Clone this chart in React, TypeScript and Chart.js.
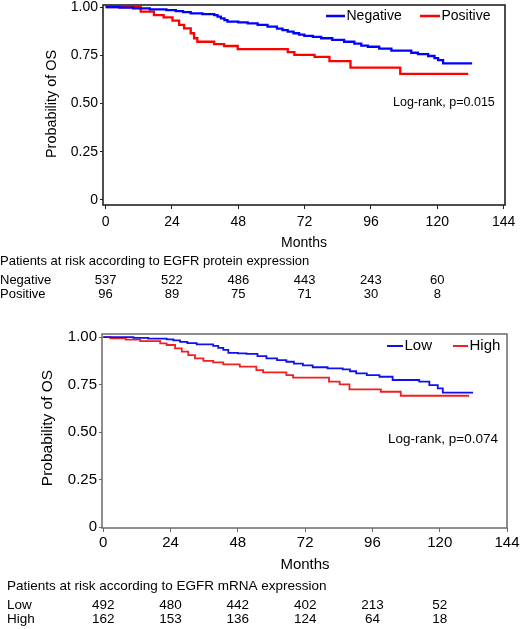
import React, { useEffect, useRef } from 'react';
import { Chart, registerables } from 'chart.js';

Chart.register(...registerables);

const FONT = '"Liberation Sans", Arial, Helvetica, sans-serif';

// ---------- shared axis ticks ----------
const monthTicks = [0, 24, 48, 72, 96, 120, 144];
const probTicks = [0, 0.25, 0.5, 0.75, 1];
const riskMonths = [0, 24, 48, 72, 96, 120];

// ---------- top panel: EGFR protein expression ----------
const negMonths = [0, 5, 10, 16, 22, 25.4, 28, 30.8, 35, 39.3, 40.5, 41.7, 43, 44.1, 48, 51.4, 55, 58.6, 62, 64, 65.9, 68, 70, 71.9, 75, 78, 82, 86.3, 90, 92.5, 94.9, 99, 103.4, 110.6, 113, 116.7, 119, 120.3, 122.1, 132.6];
const negSurv = [1.0, 0.997, 0.993, 0.988, 0.984, 0.979, 0.973, 0.967, 0.963, 0.958, 0.95, 0.941, 0.932, 0.924, 0.92, 0.915, 0.907, 0.898, 0.888, 0.88, 0.872, 0.864, 0.857, 0.85, 0.845, 0.838, 0.83, 0.82, 0.81, 0.8, 0.794, 0.784, 0.774, 0.763, 0.756, 0.746, 0.735, 0.725, 0.708, 0.708];
const posMonths = [0, 12.7, 17.5, 21, 24.2, 26.6, 28.4, 30.8, 32, 33.2, 39.3, 42.9, 47.8, 65.9, 68.3, 75.6, 81, 88.6, 106.6, 131.2];
const posSurv = [1.0, 0.976, 0.958, 0.946, 0.929, 0.907, 0.889, 0.864, 0.838, 0.82, 0.808, 0.798, 0.782, 0.766, 0.752, 0.742, 0.72, 0.686, 0.653, 0.653];
const proteinRiskNeg = [537, 522, 486, 443, 243, 60];
const proteinRiskPos = [96, 89, 75, 71, 30, 8];

// ---------- bottom panel: EGFR mRNA expression ----------
const lowMonths = [0, 10.8, 16, 22.6, 25, 27.4, 30, 33.3, 39.2, 41, 42.8, 44.6, 48, 51.1, 55, 58.2, 62, 65.3, 68, 71.2, 74.7, 80, 85.4, 88, 90.2, 94, 98.5, 103.2, 112.7, 116.3, 119.3, 121.1, 131.9];
const lowSurv = [1.0, 0.996, 0.992, 0.988, 0.982, 0.975, 0.968, 0.961, 0.954, 0.943, 0.932, 0.917, 0.914, 0.911, 0.9, 0.888, 0.878, 0.87, 0.86, 0.851, 0.841, 0.835, 0.83, 0.82, 0.809, 0.8, 0.791, 0.774, 0.765, 0.747, 0.73, 0.707, 0.707];
const highMonths = [0, 2.5, 8, 13.2, 20.3, 22.6, 25.6, 28, 30.3, 32.7, 35.7, 39.2, 42.8, 48.7, 54.6, 57, 65.3, 67.7, 80.5, 84.3, 87.8, 99, 106.1, 130.5];
const highSurv = [1.0, 0.993, 0.986, 0.979, 0.967, 0.958, 0.94, 0.923, 0.905, 0.888, 0.875, 0.867, 0.856, 0.844, 0.826, 0.814, 0.8, 0.786, 0.765, 0.751, 0.725, 0.712, 0.691, 0.691];
const mrnaRiskLow = [492, 480, 442, 402, 213, 52];
const mrnaRiskHigh = [162, 153, 136, 124, 64, 18];

type Series = { label: string; months: number[]; surv: number[]; color: string };
type LegendItem = { label: string; color: string; x: number; len: number };
type Panel = {
  width: number;
  height: number;
  area: { left: number; top: number; right: number; bottom: number };
  xRange: [number, number];
  yRange: [number, number];
  series: Series[];
  lineWidth: number;
  frameColor: string;
  frameWidth: number;
  tickSize: number;
  xTickPad: number;
  legend: LegendItem[];
  legendY: number;
  legendSize: number;
  legendLineWidth: number;
  pText: string;
  pX: number;
  pY: number;
  pSize: number;
  yTitleX: number;
  yTitleY: number;
  yTitleSize: number;
  monthsX: number;
  monthsY: number;
  monthsSize: number;
  tableX: number;
  tableTitle: string;
  tableTitleY: number;
  rows: { label: string; values: number[]; y: number }[];
  tableSize: number;
};

const BLUE = '#0000ff';
const RED = '#ff0000';

const topPanel: Panel = {
  width: 520,
  height: 315,
  area: { left: 103, top: 5, right: 505, bottom: 205 },
  xRange: [-0.94, 144.5],
  yRange: [-0.026, 1.0104],
  series: [
    { label: 'Negative', months: negMonths, surv: negSurv, color: BLUE },
    { label: 'Positive', months: posMonths, surv: posSurv, color: RED },
  ],
  lineWidth: 2.3,
  frameColor: '#222222',
  frameWidth: 1.6,
  tickSize: 14,
  xTickPad: 5,
  legend: [
    { label: 'Negative', color: BLUE, x: 326, len: 19 },
    { label: 'Positive', color: RED, x: 420, len: 20 },
  ],
  legendY: 16,
  legendSize: 14,
  legendLineWidth: 2.5,
  pText: 'Log-rank, p=0.015',
  pX: 393,
  pY: 103,
  pSize: 12.5,
  yTitleX: 52,
  yTitleY: 104,
  yTitleSize: 14.4,
  monthsX: 304,
  monthsY: 243,
  monthsSize: 14,
  tableX: 0,
  tableTitle: 'Patients at risk according to EGFR protein expression',
  tableTitleY: 261,
  rows: [
    { label: 'Negative', values: proteinRiskNeg, y: 280 },
    { label: 'Positive', values: proteinRiskPos, y: 294 },
  ],
  tableSize: 13,
};

const bottomPanel: Panel = {
  width: 520,
  height: 314,
  area: { left: 102, top: 19, right: 507, bottom: 213 },
  xRange: [-0.46, 144],
  yRange: [-0.005, 1.016],
  series: [
    { label: 'Low', months: lowMonths, surv: lowSurv, color: '#1010f0' },
    { label: 'High', months: highMonths, surv: highSurv, color: '#f02020' },
  ],
  lineWidth: 1.8,
  frameColor: '#6a6a6a',
  frameWidth: 1.5,
  tickSize: 15,
  xTickPad: 2,
  legend: [
    { label: 'Low', color: '#1010f0', x: 387, len: 16 },
    { label: 'High', color: '#f02020', x: 453, len: 15 },
  ],
  legendY: 31,
  legendSize: 15,
  legendLineWidth: 2,
  pText: 'Log-rank, p=0.074',
  pX: 388,
  pY: 124,
  pSize: 13.5,
  yTitleX: 48,
  yTitleY: 113,
  yTitleSize: 15.5,
  monthsX: 305,
  monthsY: 250,
  monthsSize: 15,
  tableX: 7,
  tableTitle: 'Patients at risk according to EGFR mRNA expression',
  tableTitleY: 271,
  rows: [
    { label: 'Low', values: mrnaRiskLow, y: 290 },
    { label: 'High', values: mrnaRiskHigh, y: 304 },
  ],
  tableSize: 13.5,
};

function makeExtras(p: Panel) {
  return {
    id: 'kmExtras',
    afterDraw(chart: any) {
      const ctx: CanvasRenderingContext2D = chart.ctx;
      const a = chart.chartArea;
      const xs = chart.scales.x;
      ctx.save();
      // frame box
      ctx.strokeStyle = p.frameColor;
      ctx.lineWidth = p.frameWidth;
      ctx.strokeRect(a.left, a.top, a.right - a.left, a.bottom - a.top);

      ctx.fillStyle = '#000';
      ctx.textBaseline = 'middle';

      // legend
      ctx.font = `${p.legendSize}px ${FONT}`;
      ctx.textAlign = 'left';
      for (const it of p.legend) {
        ctx.strokeStyle = it.color;
        ctx.lineWidth = p.legendLineWidth;
        ctx.beginPath();
        ctx.moveTo(it.x, p.legendY);
        ctx.lineTo(it.x + it.len, p.legendY);
        ctx.stroke();
        ctx.fillText(it.label, it.x + it.len + 1.5, p.legendY);
      }

      // log-rank annotation
      ctx.font = `${p.pSize}px ${FONT}`;
      ctx.fillText(p.pText, p.pX, p.pY);

      // y title
      ctx.save();
      ctx.translate(p.yTitleX, p.yTitleY);
      ctx.rotate(-Math.PI / 2);
      ctx.textAlign = 'center';
      ctx.font = `${p.yTitleSize}px ${FONT}`;
      ctx.fillText('Probability of OS', 0, 0);
      ctx.restore();

      // x title
      ctx.textAlign = 'center';
      ctx.font = `${p.monthsSize}px ${FONT}`;
      ctx.fillText('Months', p.monthsX, p.monthsY);

      // number at risk table
      ctx.font = `${p.tableSize}px ${FONT}`;
      ctx.textAlign = 'left';
      ctx.fillText(p.tableTitle, p.tableX, p.tableTitleY);
      for (const row of p.rows) {
        ctx.textAlign = 'left';
        ctx.fillText(row.label, p.tableX, row.y);
        ctx.textAlign = 'center';
        row.values.forEach((v, i) => {
          ctx.fillText(String(v), xs.getPixelForValue(riskMonths[i]), row.y);
        });
      }
      ctx.restore();
    },
  };
}

function KMPanel({ p, top }: { p: Panel; top: number }) {
  const ref = useRef<HTMLCanvasElement | null>(null);
  useEffect(() => {
    if (!ref.current) return;
    const tickFont = { family: FONT, size: p.tickSize };
    const chart = new Chart(ref.current, {
      type: 'line',
      data: {
        datasets: p.series.map((s) => ({
          label: s.label,
          data: s.months.map((m, i) => ({ x: m, y: s.surv[i] })),
          borderColor: s.color,
          backgroundColor: s.color,
          borderWidth: p.lineWidth,
          stepped: true,
          pointRadius: 0,
          fill: false,
          tension: 0,
        })),
      },
      options: {
        animation: false,
        responsive: false,
        devicePixelRatio: 1,
        layout: {
          padding: { left: 0, top: p.area.top, right: p.width - p.area.right, bottom: 0 },
        },
        plugins: { legend: { display: false }, tooltip: { enabled: false } },
        scales: {
          x: {
            type: 'linear',
            min: p.xRange[0],
            max: p.xRange[1],
            afterBuildTicks: (s: any) => {
              s.ticks = monthTicks.map((v) => ({ value: v }));
            },
            afterFit: (s: any) => {
              s.height = p.height - p.area.bottom;
              s.paddingLeft = 0;
              s.paddingRight = 0;
            },
            ticks: {
              font: tickFont,
              color: '#000',
              padding: p.xTickPad,
              autoSkip: false,
              maxRotation: 0,
              callback: (v: any) => String(v),
            },
            grid: {
              display: true,
              drawOnChartArea: false,
              drawTicks: true,
              tickLength: 4,
              color: p.frameColor,
              lineWidth: 1,
            },
            border: { display: false },
          },
          y: {
            type: 'linear',
            min: p.yRange[0],
            max: p.yRange[1],
            afterBuildTicks: (s: any) => {
              s.ticks = probTicks.map((v) => ({ value: v }));
            },
            afterFit: (s: any) => {
              s.width = p.area.left;
              s.paddingTop = 0;
              s.paddingBottom = 0;
            },
            ticks: {
              font: tickFont,
              color: '#000',
              padding: 2,
              autoSkip: false,
              callback: (v: any) => (v === 0 ? '0' : Number(v).toFixed(2)),
            },
            grid: {
              display: true,
              drawOnChartArea: false,
              drawTicks: true,
              tickLength: 3,
              color: p.frameColor,
              lineWidth: 1,
            },
            border: { display: false },
          },
        },
      },
      plugins: [makeExtras(p)],
    } as any);
    return () => chart.destroy();
  }, [p]);
  return (
    <canvas
      ref={ref}
      width={p.width}
      height={p.height}
      style={{ position: 'absolute', left: 0, top, width: p.width, height: p.height, display: 'block' }}
    />
  );
}

export default function App() {
  return (
    <div style={{ position: 'absolute', left: 0, top: 0, width: 520, height: 629, background: '#fff' }}>
      <KMPanel p={topPanel} top={0} />
      <KMPanel p={bottomPanel} top={315} />
    </div>
  );
}
